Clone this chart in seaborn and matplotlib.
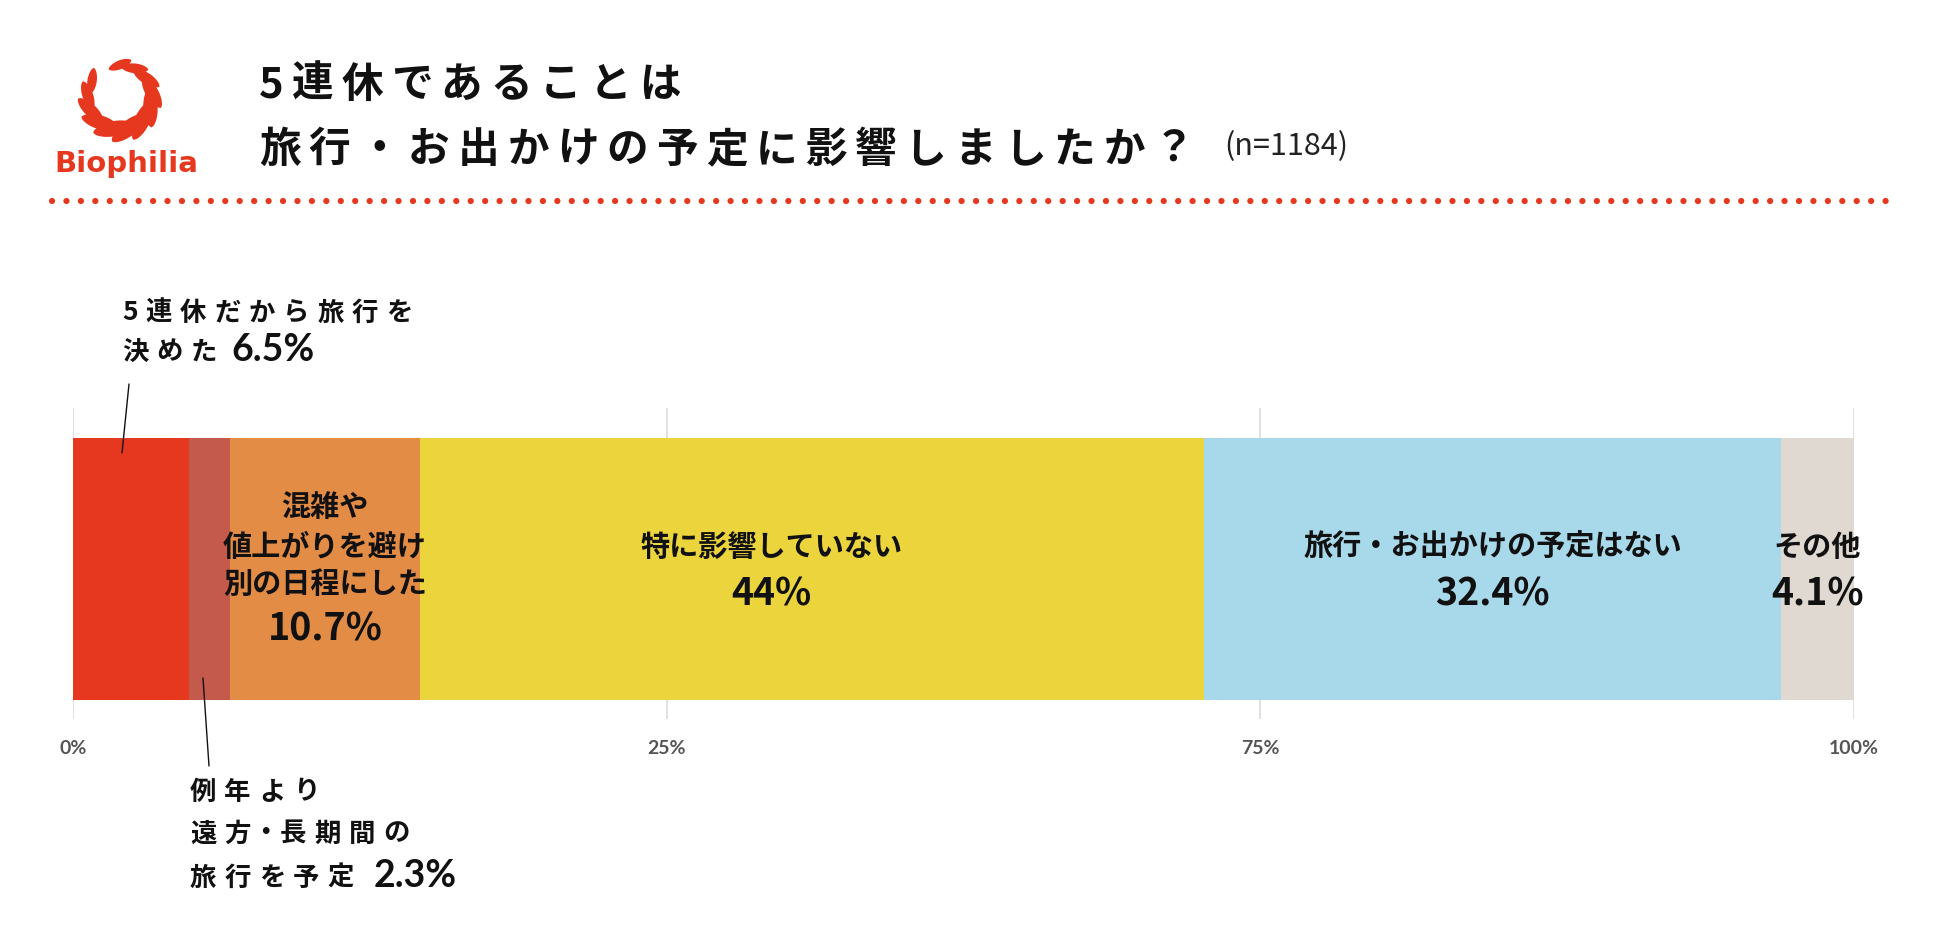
import numpy as np
import pandas as pd
import seaborn as sns
import matplotlib.pyplot as plt
import matplotlib.transforms as mtransforms
from matplotlib.patches import Polygon
from matplotlib.lines import Line2D

W, H = 1950, 948

# data
answers = ["5連休だから旅行を決めた", "例年より遠方・長期間の旅行を予定",
           "混雑や値上がりを避け別の日程にした", "特に影響していない",
           "旅行・お出かけの予定はない", "その他"]
shares = [6.5, 2.3, 10.7, 44.0, 32.4, 4.1]
colors = ["#E5381F", "#C45A4B", "#E38C45", "#ECD43D", "#A8D9EA", "#DFD9D1"]
# the source puts its gridlines at thirds but labels them 25 / 75
tick_pos = [0, 100 / 3, 200 / 3, 100]
tick_labels = ["0%", "25%", "75%", "100%"]

RED = "#E5381F"
INK = "#111111"
JP = ["Noto Sans CJK JP", "DejaVu Sans"]
LAT = ["Lato", "Noto Sans CJK JP", "DejaVu Sans"]

sns.set_theme(style="white")
plt.rcParams["font.family"] = JP

fig = plt.figure(figsize=(W / 100, H / 100), dpi=100)
fig.patch.set_facecolor("white")
renderer = fig.canvas.get_renderer()


def fx(x):
    return x / W


def fy(y):
    return 1 - y / H


def ftext(x, y, s, **kw):
    kw.setdefault("va", "center")
    kw.setdefault("ha", "left")
    return fig.text(fx(x), fy(y), s, **kw)


def spaced(x, y, s, size, gap, narrow="", **kw):
    """letter-spaced text, one glyph at a time (x, y in pixels)"""
    em = size * 100 / 72
    for ch in s:
        if ord(ch) >= 0x3000:
            w = em * (0.5 if ch in narrow else 1.0)
            ftext(x + w / 2, y, ch, fontsize=size, ha="center", **kw)
        else:
            t = ftext(x, y, ch, fontsize=size, **kw)
            w = t.get_window_extent(renderer).width
        x += w + gap
    return x


# ---- stacked bar ----
ax = fig.add_axes([fx(73), fy(719), 1781 / W, 311 / H])
df = pd.DataFrame({"answer": answers, "share": shares, "color": colors})
df["cum"] = df["share"].cumsum()
df["mid"] = df["cum"] - df["share"] / 2

# longest cumulative bar first so the shorter ones sit on top
for _, row in df.iloc[::-1].iterrows():
    sns.barplot(x=[row["cum"]], y=["q"], color=row["color"], saturation=1,
                width=0.843, linewidth=0, errorbar=None, ax=ax)

ax.set_xlim(0, 100)
ax.set_ylim(0.4825, -0.518)
ax.set_xticks(tick_pos, tick_labels)
ax.set_yticks([])
ax.set_xlabel("")
ax.set_ylabel("")
ax.grid(True, axis="x", color="#dcdcdc", lw=1.2)
ax.set_axisbelow(True)
sns.despine(ax=ax, left=True, bottom=True)
ax.tick_params(axis="x", length=0, pad=15, labelsize=14, labelcolor="#555555")
for lab in ax.get_xticklabels():
    lab.set_fontweight("bold")
    lab.set_fontfamily(LAT)

trans = mtransforms.blended_transform_factory(ax.transData, fig.transFigure)
mid = dict(zip(df["answer"], df["mid"]))
shift = {"特に影響していない": -2.3}


def inlabel(ans, lines, ys, pct, ypct):
    x = mid[ans] + shift.get(ans, 0)
    for s, y in zip(lines, ys):
        ax.text(x, fy(y), s, transform=trans, ha="center", va="center",
                fontsize=21, fontweight="bold", color=INK)
    ax.text(x, fy(ypct), pct, transform=trans, ha="center", va="center",
            fontsize=27, fontweight="bold", color=INK)


inlabel(answers[2], ["混雑や", "値上がりを避け", "別の日程にした"], [507, 547, 584], "10.7%", 629)
inlabel(answers[3], ["特に影響していない"], [547], "44%", 594)
inlabel(answers[4], ["旅行・お出かけの予定はない"], [547], "32.4%", 594)
inlabel(answers[5], ["その他"], [547], "4.1%", 594)

# ---- outside annotations ----
lab_kw = dict(fontweight="bold", color=INK)
spaced(122, 313, "5連休だから旅行を", 19, 8, **lab_kw)
spaced(122, 352, "決めた", 19, 8, **lab_kw)
ftext(231, 350, "6.5%", fontsize=27, fontweight="bold", family=LAT, color=INK)
fig.add_artist(Line2D([fx(129), fx(122)], [fy(384), fy(453)], transform=fig.transFigure,
                      color=INK, lw=1))

spaced(190, 792, "例年より", 19, 8, **lab_kw)
spaced(190, 834, "遠方・長期間の", 19, 8, narrow="・", **lab_kw)
spaced(190, 878, "旅行を予定", 19, 8, **lab_kw)
ftext(374, 876, "2.3%", fontsize=27, fontweight="bold", family=LAT, color=INK)
fig.add_artist(Line2D([fx(203), fx(209)], [fy(678), fy(766)], transform=fig.transFigure,
                      color=INK, lw=1))

# ---- title ----
spaced(259, 85, "5連休であることは", 30, 8, **lab_kw)
spaced(259, 150, "旅行・お出かけの予定に影響しましたか？", 30, 8, **lab_kw)
ftext(1224, 147, "(n=1184)", fontsize=22, color="#222222")

# dotted separator
fig.add_artist(Line2D([fx(52), fx(1890)], [fy(201), fy(201)], transform=fig.transFigure,
                      color=RED, lw=4.5, linestyle=(0, (0.01, 2.3)), dash_capstyle="round"))

# ---- logo: a ring of leaves pointing counter-clockwise ----
lax = fig.add_axes([fx(68), fy(149), 104 / W, 104 / H])
lax.set_xlim(-1, 1)
lax.set_ylim(-1, 1)
lax.set_aspect("equal")
lax.axis("off")
u = np.linspace(-1, 1, 30)
leaf = np.concatenate([np.c_[u, np.sqrt(1 - u ** 2) ** 1.3],
                       np.c_[u[::-1], -np.sqrt(1 - u[::-1] ** 2) ** 1.3]])
for a in np.linspace(150, 450, 12):
    t = np.deg2rad(a)
    s = 0.55 + 0.45 * (1 + np.cos(np.deg2rad(a - 290))) / 2
    L, w = 0.42 * s, 0.15 * s
    rot = np.deg2rad(a + 90 + 22)
    pts = leaf * [L, w]
    pts = pts @ np.array([[np.cos(rot), np.sin(rot)], [-np.sin(rot), np.cos(rot)]])
    pts += [0.62 * np.cos(t), 0.62 * np.sin(t)]
    lax.add_patch(Polygon(pts, closed=True, color=RED, lw=0))
ftext(126, 164, "Biophilia", ha="center", fontsize=21, fontweight="bold",
      family=["DejaVu Sans"], color=RED)

fig.savefig("out.png", dpi=100, facecolor="white")
